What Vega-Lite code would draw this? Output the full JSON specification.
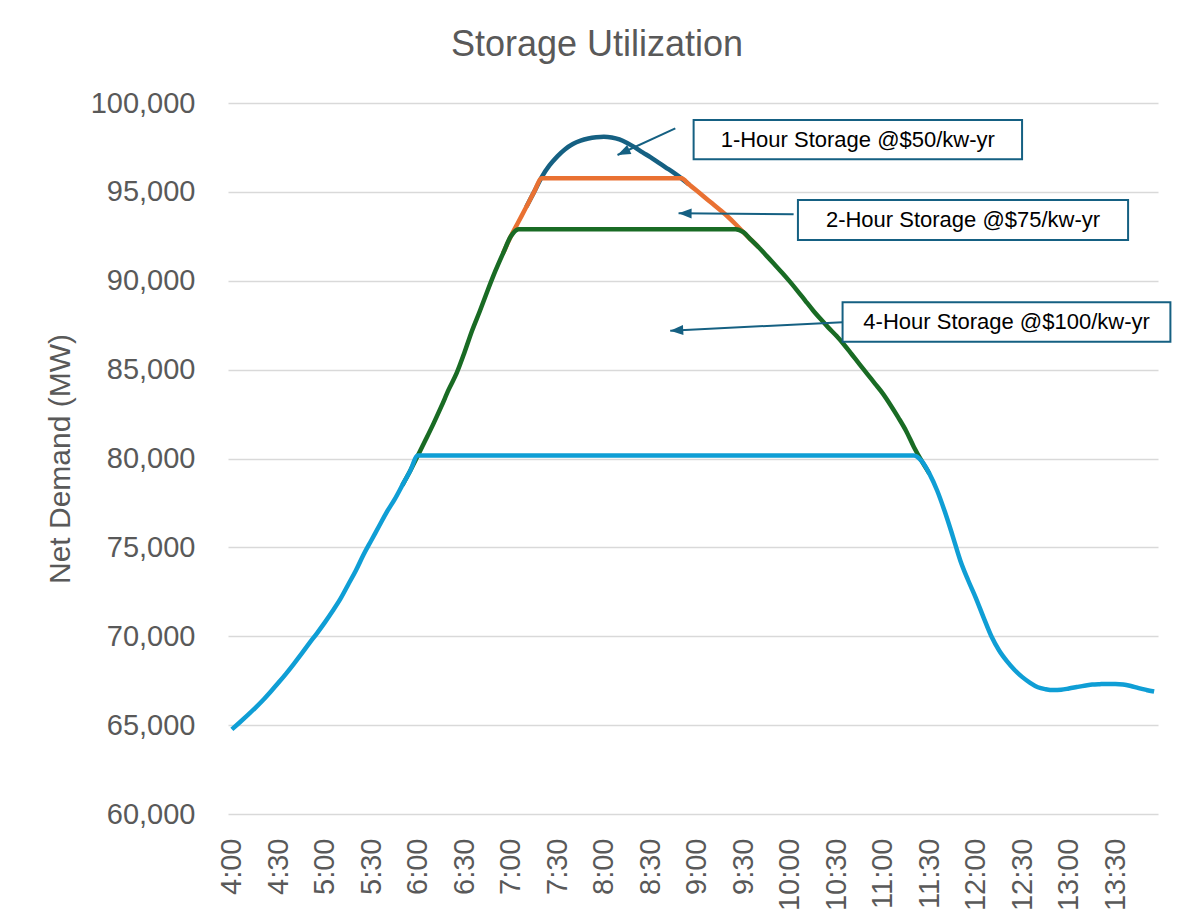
{
  "$schema": "https://vega.github.io/schema/vega-lite/v6.json",
  "autosize": {"type": "none"},
  "width": 930,
  "height": 711,
  "padding": {"left": 228, "top": 103, "right": 22, "bottom": 107},
  "background": "white",
  "config": {
    "font": "Liberation Sans",
    "view": {"stroke": null}
  },
  "title": {
    "text": "Storage Utilization",
    "fontSize": 36,
    "fontWeight": "normal",
    "color": "#595959",
    "anchor": "middle",
    "dx": -96,
    "offset": 25
  },
  "datasets": {
    "demand": [
      {"time": "2024-01-01T07:10", "mw": 94160}, {"time": "2024-01-01T07:15", "mw": 95000}, {"time": "2024-01-01T07:20", "mw": 95850},
      {"time": "2024-01-01T07:25", "mw": 96500}, {"time": "2024-01-01T07:30", "mw": 97000}, {"time": "2024-01-01T07:35", "mw": 97400},
      {"time": "2024-01-01T07:40", "mw": 97690}, {"time": "2024-01-01T07:45", "mw": 97880}, {"time": "2024-01-01T07:50", "mw": 98000},
      {"time": "2024-01-01T07:55", "mw": 98070}, {"time": "2024-01-01T08:00", "mw": 98100}, {"time": "2024-01-01T08:05", "mw": 98060},
      {"time": "2024-01-01T08:10", "mw": 97950}, {"time": "2024-01-01T08:15", "mw": 97750}, {"time": "2024-01-01T08:20", "mw": 97500},
      {"time": "2024-01-01T08:25", "mw": 97220}, {"time": "2024-01-01T08:30", "mw": 96950}, {"time": "2024-01-01T08:35", "mw": 96660},
      {"time": "2024-01-01T08:40", "mw": 96370}, {"time": "2024-01-01T08:45", "mw": 96080}, {"time": "2024-01-01T08:50", "mw": 95760},
      {"time": "2024-01-01T08:55", "mw": 95410}
    ],
    "hour1": [
      {"time": "2024-01-01T06:55", "mw": 91550}, {"time": "2024-01-01T07:00", "mw": 92500}, {"time": "2024-01-01T07:05", "mw": 93330},
      {"time": "2024-01-01T07:10", "mw": 94160}, {"time": "2024-01-01T07:15", "mw": 95000}, {"time": "2024-01-01T07:20", "mw": 95770},
      {"time": "2024-01-01T08:45", "mw": 95770}, {"time": "2024-01-01T08:50", "mw": 95760}, {"time": "2024-01-01T08:55", "mw": 95410},
      {"time": "2024-01-01T09:00", "mw": 95060}, {"time": "2024-01-01T09:05", "mw": 94700}, {"time": "2024-01-01T09:10", "mw": 94340},
      {"time": "2024-01-01T09:15", "mw": 93980}, {"time": "2024-01-01T09:20", "mw": 93600}, {"time": "2024-01-01T09:25", "mw": 93180},
      {"time": "2024-01-01T09:30", "mw": 92730}, {"time": "2024-01-01T09:35", "mw": 92300}, {"time": "2024-01-01T09:40", "mw": 91870}
    ],
    "hour2": [
      {"time": "2024-01-01T05:50", "mw": 78500}, {"time": "2024-01-01T05:55", "mw": 79300}, {"time": "2024-01-01T06:00", "mw": 80170},
      {"time": "2024-01-01T06:05", "mw": 81050}, {"time": "2024-01-01T06:10", "mw": 81950}, {"time": "2024-01-01T06:15", "mw": 82900},
      {"time": "2024-01-01T06:20", "mw": 83900}, {"time": "2024-01-01T06:25", "mw": 84800}, {"time": "2024-01-01T06:30", "mw": 85950},
      {"time": "2024-01-01T06:35", "mw": 87200}, {"time": "2024-01-01T06:40", "mw": 88300}, {"time": "2024-01-01T06:45", "mw": 89450},
      {"time": "2024-01-01T06:50", "mw": 90550}, {"time": "2024-01-01T06:55", "mw": 91550}, {"time": "2024-01-01T07:00", "mw": 92500},
      {"time": "2024-01-01T07:05", "mw": 92900}, {"time": "2024-01-01T09:25", "mw": 92900}, {"time": "2024-01-01T09:30", "mw": 92730},
      {"time": "2024-01-01T09:35", "mw": 92300}, {"time": "2024-01-01T09:40", "mw": 91870}, {"time": "2024-01-01T09:45", "mw": 91400},
      {"time": "2024-01-01T09:50", "mw": 90930}, {"time": "2024-01-01T09:55", "mw": 90450}, {"time": "2024-01-01T10:00", "mw": 89950},
      {"time": "2024-01-01T10:05", "mw": 89420}, {"time": "2024-01-01T10:10", "mw": 88870}, {"time": "2024-01-01T10:15", "mw": 88330},
      {"time": "2024-01-01T10:20", "mw": 87830}, {"time": "2024-01-01T10:25", "mw": 87350}, {"time": "2024-01-01T10:30", "mw": 86900},
      {"time": "2024-01-01T10:35", "mw": 86400}, {"time": "2024-01-01T10:40", "mw": 85850}, {"time": "2024-01-01T10:45", "mw": 85300},
      {"time": "2024-01-01T10:50", "mw": 84750}, {"time": "2024-01-01T10:55", "mw": 84200}, {"time": "2024-01-01T11:00", "mw": 83650},
      {"time": "2024-01-01T11:05", "mw": 83000}, {"time": "2024-01-01T11:10", "mw": 82300}, {"time": "2024-01-01T11:15", "mw": 81550},
      {"time": "2024-01-01T11:20", "mw": 80650}, {"time": "2024-01-01T11:25", "mw": 79860}, {"time": "2024-01-01T11:30", "mw": 79150}
    ],
    "hour4": [
      {"time": "2024-01-01T04:00", "mw": 64760}, {"time": "2024-01-01T04:05", "mw": 65150}, {"time": "2024-01-01T04:10", "mw": 65550},
      {"time": "2024-01-01T04:15", "mw": 65960}, {"time": "2024-01-01T04:20", "mw": 66400}, {"time": "2024-01-01T04:25", "mw": 66880},
      {"time": "2024-01-01T04:30", "mw": 67380}, {"time": "2024-01-01T04:35", "mw": 67900}, {"time": "2024-01-01T04:40", "mw": 68450},
      {"time": "2024-01-01T04:45", "mw": 69020}, {"time": "2024-01-01T04:50", "mw": 69610}, {"time": "2024-01-01T04:55", "mw": 70180},
      {"time": "2024-01-01T05:00", "mw": 70780}, {"time": "2024-01-01T05:05", "mw": 71420}, {"time": "2024-01-01T05:10", "mw": 72100},
      {"time": "2024-01-01T05:15", "mw": 72900}, {"time": "2024-01-01T05:20", "mw": 73700}, {"time": "2024-01-01T05:25", "mw": 74600},
      {"time": "2024-01-01T05:30", "mw": 75400}, {"time": "2024-01-01T05:35", "mw": 76200}, {"time": "2024-01-01T05:40", "mw": 77000},
      {"time": "2024-01-01T05:45", "mw": 77700}, {"time": "2024-01-01T05:50", "mw": 78500}, {"time": "2024-01-01T05:55", "mw": 79300},
      {"time": "2024-01-01T06:00", "mw": 80170}, {"time": "2024-01-01T11:20", "mw": 80170}, {"time": "2024-01-01T11:25", "mw": 79860},
      {"time": "2024-01-01T11:30", "mw": 79150}, {"time": "2024-01-01T11:35", "mw": 78200}, {"time": "2024-01-01T11:40", "mw": 77000},
      {"time": "2024-01-01T11:45", "mw": 75650}, {"time": "2024-01-01T11:50", "mw": 74250}, {"time": "2024-01-01T11:55", "mw": 73150},
      {"time": "2024-01-01T12:00", "mw": 72150}, {"time": "2024-01-01T12:05", "mw": 71050}, {"time": "2024-01-01T12:10", "mw": 70000},
      {"time": "2024-01-01T12:15", "mw": 69200}, {"time": "2024-01-01T12:20", "mw": 68600}, {"time": "2024-01-01T12:25", "mw": 68100},
      {"time": "2024-01-01T12:30", "mw": 67700}, {"time": "2024-01-01T12:35", "mw": 67380}, {"time": "2024-01-01T12:40", "mw": 67130},
      {"time": "2024-01-01T12:45", "mw": 67020}, {"time": "2024-01-01T12:50", "mw": 66970}, {"time": "2024-01-01T12:55", "mw": 66990},
      {"time": "2024-01-01T13:00", "mw": 67060}, {"time": "2024-01-01T13:05", "mw": 67140}, {"time": "2024-01-01T13:10", "mw": 67220},
      {"time": "2024-01-01T13:15", "mw": 67280}, {"time": "2024-01-01T13:20", "mw": 67305}, {"time": "2024-01-01T13:25", "mw": 67320},
      {"time": "2024-01-01T13:30", "mw": 67320}, {"time": "2024-01-01T13:35", "mw": 67290}, {"time": "2024-01-01T13:40", "mw": 67200},
      {"time": "2024-01-01T13:45", "mw": 67080}, {"time": "2024-01-01T13:50", "mw": 66980}, {"time": "2024-01-01T13:55", "mw": 66890}
    ],
    "boxes": [
      {"label": "1-Hour Storage @$50/kw-yr", "x1": "2024-01-01T08:57:54", "x2": "2024-01-01T12:29:48", "y1": 99044, "y2": 96834, "xc": "2024-01-01T10:43:48", "yc": 97936},
      {"label": "2-Hour Storage @$75/kw-yr", "x1": "2024-01-01T10:05:12", "x2": "2024-01-01T13:38:12", "y1": 94544, "y2": 92295, "xc": "2024-01-01T11:51:42", "yc": 93420},
      {"label": "4-Hour Storage @$100/kw-yr", "x1": "2024-01-01T10:34:00", "x2": "2024-01-01T14:05:30", "y1": 88791, "y2": 86575, "xc": "2024-01-01T12:19:48", "yc": 87683}
    ],
    "arrows": [
      {"id": 1, "tx": "2024-01-01T08:46:06", "ty": 98577, "hx": "2024-01-01T08:08:48", "hy": 97075},
      {"id": 2, "tx": "2024-01-01T10:02:24", "ty": 93740, "hx": "2024-01-01T08:48:12", "hy": 93796},
      {"id": 3, "tx": "2024-01-01T10:34:00", "ty": 87666, "hx": "2024-01-01T08:42:48", "hy": 87193}
    ]
  },
  "layer": [
    {
      "data": {"name": "demand"},
      "mark": {"type": "line", "interpolate": "monotone", "color": "#156082", "strokeWidth": 4.5},
      "encoding": {
        "x": {
          "field": "time", "type": "temporal",
          "scale": {"domain": [
            {"year": 2024, "month": 1, "date": 1, "hours": 3, "minutes": 57, "seconds": 30},
            {"year": 2024, "month": 1, "date": 1, "hours": 13, "minutes": 57, "seconds": 30}
          ], "nice": false},
          "axis": {
            "title": null,
            "format": "%-H:%M",
            "values": [
              {"year": 2024, "month": 1, "date": 1, "hours": 4, "minutes": 0},
              {"year": 2024, "month": 1, "date": 1, "hours": 4, "minutes": 30},
              {"year": 2024, "month": 1, "date": 1, "hours": 5, "minutes": 0},
              {"year": 2024, "month": 1, "date": 1, "hours": 5, "minutes": 30},
              {"year": 2024, "month": 1, "date": 1, "hours": 6, "minutes": 0},
              {"year": 2024, "month": 1, "date": 1, "hours": 6, "minutes": 30},
              {"year": 2024, "month": 1, "date": 1, "hours": 7, "minutes": 0},
              {"year": 2024, "month": 1, "date": 1, "hours": 7, "minutes": 30},
              {"year": 2024, "month": 1, "date": 1, "hours": 8, "minutes": 0},
              {"year": 2024, "month": 1, "date": 1, "hours": 8, "minutes": 30},
              {"year": 2024, "month": 1, "date": 1, "hours": 9, "minutes": 0},
              {"year": 2024, "month": 1, "date": 1, "hours": 9, "minutes": 30},
              {"year": 2024, "month": 1, "date": 1, "hours": 10, "minutes": 0},
              {"year": 2024, "month": 1, "date": 1, "hours": 10, "minutes": 30},
              {"year": 2024, "month": 1, "date": 1, "hours": 11, "minutes": 0},
              {"year": 2024, "month": 1, "date": 1, "hours": 11, "minutes": 30},
              {"year": 2024, "month": 1, "date": 1, "hours": 12, "minutes": 0},
              {"year": 2024, "month": 1, "date": 1, "hours": 12, "minutes": 30},
              {"year": 2024, "month": 1, "date": 1, "hours": 13, "minutes": 0},
              {"year": 2024, "month": 1, "date": 1, "hours": 13, "minutes": 30}
            ],
            "labelAngle": 270,
            "labelFontSize": 29,
            "labelColor": "#595959",
            "labelPadding": 24,
            "labelOverlap": false,
            "labelFlush": false,
            "ticks": false,
            "domain": false,
            "grid": false
          }
        },
        "y": {
          "field": "mw", "type": "quantitative",
          "scale": {"domain": [60000, 100000], "nice": false, "zero": false},
          "axis": {
            "title": "Net Demand (MW)",
            "titleFontSize": 30,
            "titleFontWeight": "normal",
            "titleColor": "#595959",
            "titlePadding": 15,
            "values": [60000, 65000, 70000, 75000, 80000, 85000, 90000, 95000, 100000],
            "format": ",.0f",
            "labelFontSize": 29,
            "labelColor": "#595959",
            "labelPadding": 33,
            "ticks": false,
            "domain": false,
            "grid": true,
            "gridColor": "#D9D9D9",
            "gridWidth": 1.5
          }
        }
      }
    },
    {
      "data": {"name": "hour1"},
      "mark": {"type": "line", "interpolate": "monotone", "color": "#E97132", "strokeWidth": 4.5},
      "encoding": {
        "x": {"field": "time", "type": "temporal"},
        "y": {"field": "mw", "type": "quantitative"}
      }
    },
    {
      "data": {"name": "hour2"},
      "mark": {"type": "line", "interpolate": "monotone", "color": "#196B24", "strokeWidth": 4.5},
      "encoding": {
        "x": {"field": "time", "type": "temporal"},
        "y": {"field": "mw", "type": "quantitative"}
      }
    },
    {
      "data": {"name": "hour4"},
      "mark": {"type": "line", "interpolate": "monotone", "color": "#0F9ED5", "strokeWidth": 4.5},
      "encoding": {
        "x": {"field": "time", "type": "temporal"},
        "y": {"field": "mw", "type": "quantitative"}
      }
    },
    {
      "data": {"name": "arrows"},
      "mark": {"type": "rule", "color": "#156082", "strokeWidth": 2},
      "encoding": {
        "x": {"field": "tx", "type": "temporal"},
        "y": {"field": "ty", "type": "quantitative"},
        "x2": {"field": "hx"},
        "y2": {"field": "hy"}
      }
    },
    {
      "data": {"name": "arrows"},
      "transform": [{"filter": "datum.id == 1"}],
      "mark": {"type": "point", "shape": "M0,0L-0.5,1.3L0.5,1.3Z", "size": 400, "filled": true, "opacity": 1, "color": "#156082", "angle": 245},
      "encoding": {
        "x": {"field": "hx", "type": "temporal"},
        "y": {"field": "hy", "type": "quantitative"}
      }
    },
    {
      "data": {"name": "arrows"},
      "transform": [{"filter": "datum.id == 2"}],
      "mark": {"type": "point", "shape": "M0,0L-0.5,1.3L0.5,1.3Z", "size": 400, "filled": true, "opacity": 1, "color": "#156082", "angle": 270.5},
      "encoding": {
        "x": {"field": "hx", "type": "temporal"},
        "y": {"field": "hy", "type": "quantitative"}
      }
    },
    {
      "data": {"name": "arrows"},
      "transform": [{"filter": "datum.id == 3"}],
      "mark": {"type": "point", "shape": "M0,0L-0.5,1.3L0.5,1.3Z", "size": 400, "filled": true, "opacity": 1, "color": "#156082", "angle": 267},
      "encoding": {
        "x": {"field": "hx", "type": "temporal"},
        "y": {"field": "hy", "type": "quantitative"}
      }
    },
    {
      "data": {"name": "boxes"},
      "mark": {"type": "rect", "fill": "white", "stroke": "#156082", "strokeWidth": 2},
      "encoding": {
        "x": {"field": "x1", "type": "temporal"},
        "x2": {"field": "x2"},
        "y": {"field": "y1", "type": "quantitative"},
        "y2": {"field": "y2"}
      }
    },
    {
      "data": {"name": "boxes"},
      "mark": {"type": "text", "fontSize": 22, "color": "#000000", "align": "center", "baseline": "middle"},
      "encoding": {
        "x": {"field": "xc", "type": "temporal"},
        "y": {"field": "yc", "type": "quantitative"},
        "text": {"field": "label"}
      }
    }
  ]
}
